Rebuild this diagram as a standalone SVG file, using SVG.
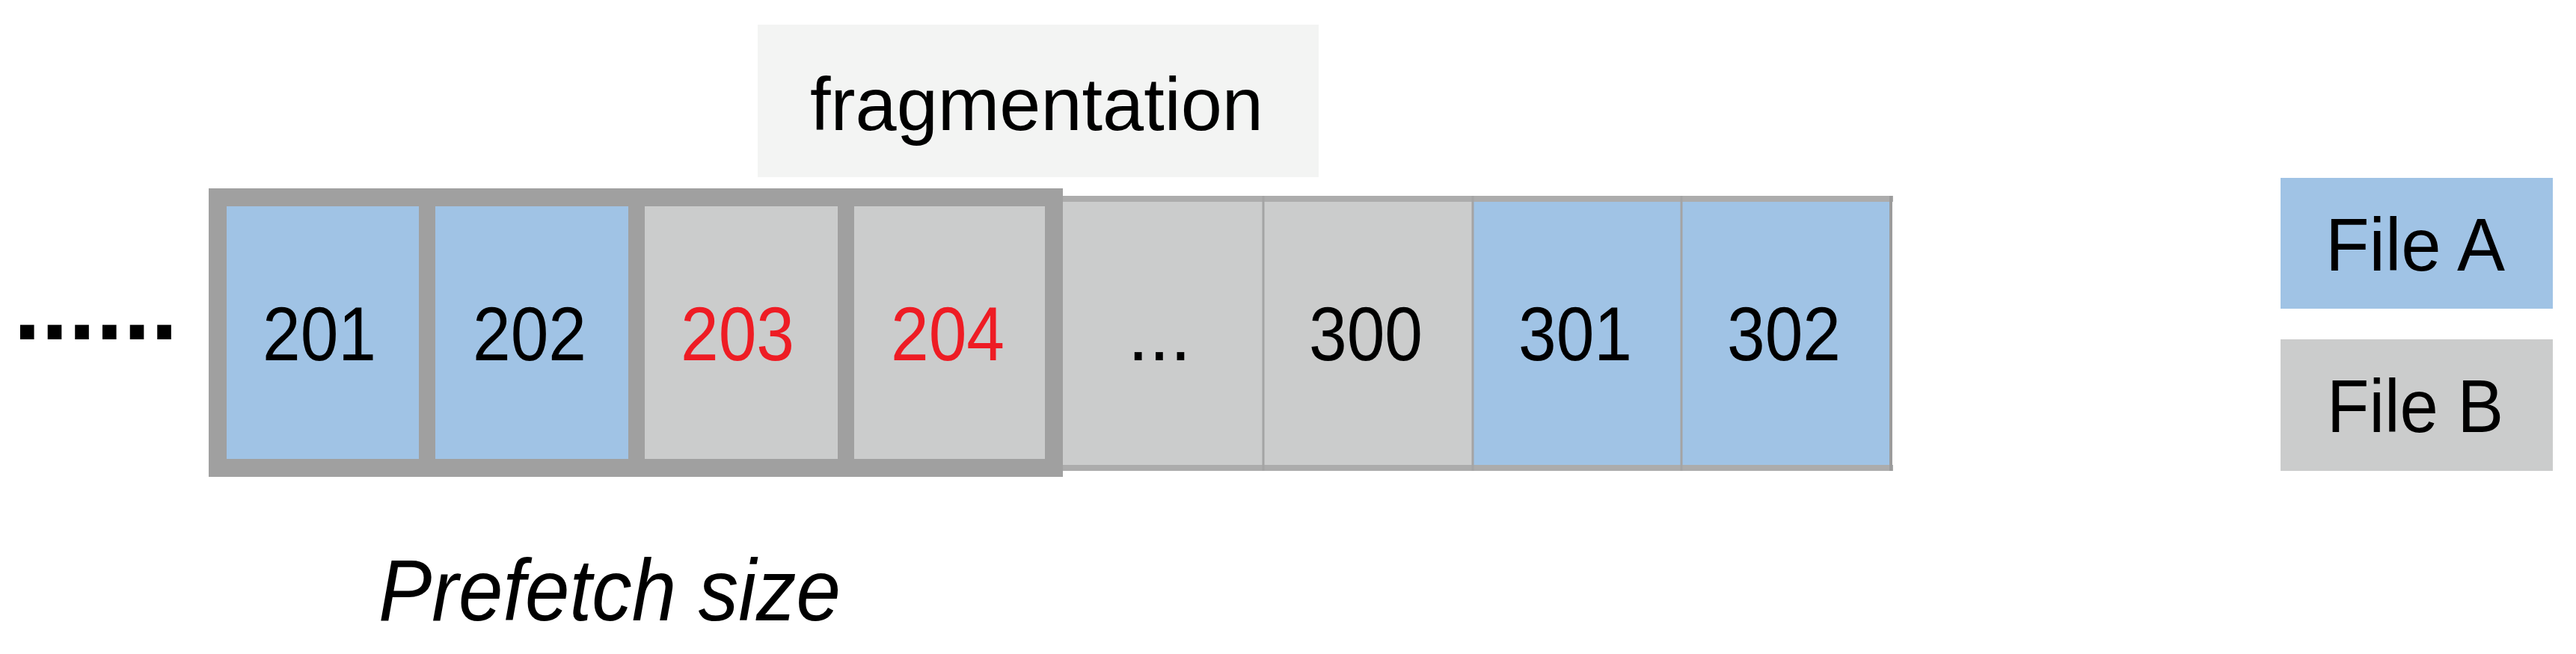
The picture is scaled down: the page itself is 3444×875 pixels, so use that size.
<svg xmlns="http://www.w3.org/2000/svg" width="3444" height="875" viewBox="0 0 3444 875">
<style>
.blue{fill:#a0c3e5}
.gray{fill:#cbcccc}
.band{fill:#acacac}
.vline{stroke:#a4a4a4;stroke-width:3}
.thick{fill:none;stroke:#a0a0a0;stroke-width:24}
.div{stroke:#a0a0a0;stroke-width:22}
.num{font-family:"Liberation Sans",Arial,sans-serif;font-size:102px;text-anchor:middle;fill:#000}
.red{fill:#ee1c24}
.lbl{font-family:"Liberation Sans",Arial,sans-serif;font-size:101px;fill:#000}
</style>
<rect width="3444" height="875" fill="#ffffff"/>

<g id="dots">
<text x="18" y="454" font-family="Liberation Sans, Arial, sans-serif" font-weight="bold" font-size="130" textLength="220" lengthAdjust="spacingAndGlyphs" fill="#000">......</text>
</g>

<g id="fragmentation">
<rect x="1013" y="33" width="750" height="204" fill="#f3f4f3"/>
<text x="1386" y="174" text-anchor="middle" font-family="Liberation Sans, Arial, sans-serif" font-size="100" textLength="606" lengthAdjust="spacingAndGlyphs" fill="#000">fragmentation</text>
</g>

<g id="row-thin">
<g id="cell-dots"><rect class="gray" x="1411" y="262" width="278" height="368"/><text class="num" x="1550" y="482">...</text></g>
<g id="cell-300"><rect class="gray" x="1689" y="262" width="280" height="368"/><text class="num" x="1826" y="482" textLength="152" lengthAdjust="spacingAndGlyphs">300</text></g>
<g id="cell-301"><rect class="blue" x="1969" y="262" width="279" height="368"/><text class="num" x="2106" y="482" textLength="152" lengthAdjust="spacingAndGlyphs">301</text></g>
<g id="cell-302"><rect class="blue" x="2248" y="262" width="282" height="368"/><text class="num" x="2385" y="482" textLength="152" lengthAdjust="spacingAndGlyphs">302</text></g>
<rect class="band" x="1411" y="262" width="1120" height="8"/>
<rect class="band" x="1411" y="622" width="1120" height="8"/>
<line class="vline" x1="1689" y1="262" x2="1689" y2="630"/>
<line class="vline" x1="1969" y1="262" x2="1969" y2="630"/>
<line class="vline" x1="2248" y1="262" x2="2248" y2="630"/>
<rect x="2526" y="262" width="4" height="368" fill="#9c9c9c"/>
</g>

<g id="prefetch">
<g id="cell-201"><rect class="blue" x="291" y="264" width="280" height="362"/><text class="num" x="427" y="482" textLength="152" lengthAdjust="spacingAndGlyphs">201</text></g>
<g id="cell-202"><rect class="blue" x="571" y="264" width="280" height="362"/><text class="num" x="708" y="482" textLength="152" lengthAdjust="spacingAndGlyphs">202</text></g>
<g id="cell-203"><rect class="gray" x="851" y="264" width="280" height="362"/><text class="num red" x="986" y="482" textLength="152" lengthAdjust="spacingAndGlyphs">203</text></g>
<g id="cell-204"><rect class="gray" x="1131" y="264" width="280" height="362"/><text class="num red" x="1267" y="482" textLength="152" lengthAdjust="spacingAndGlyphs">204</text></g>
<rect class="thick" x="291" y="264" width="1118" height="362"/>
<line class="div" x1="571" y1="264" x2="571" y2="626"/>
<line class="div" x1="851" y1="264" x2="851" y2="626"/>
<line class="div" x1="1131" y1="264" x2="1131" y2="626"/>
<text x="506" y="830" font-family="Liberation Sans, Arial, sans-serif" font-style="italic" font-size="116" textLength="618" lengthAdjust="spacingAndGlyphs" fill="#000">Prefetch size</text>
</g>

<g id="legend-a">
<rect class="blue" x="3049" y="238" width="364" height="175"/>
<text class="lbl" x="3229" y="362" text-anchor="middle" textLength="240" lengthAdjust="spacingAndGlyphs">File A</text>
</g>
<g id="legend-b">
<rect class="gray" x="3049" y="454" width="364" height="176"/>
<text class="lbl" x="3229" y="578" text-anchor="middle" textLength="236" lengthAdjust="spacingAndGlyphs">File B</text>
</g>
</svg>
